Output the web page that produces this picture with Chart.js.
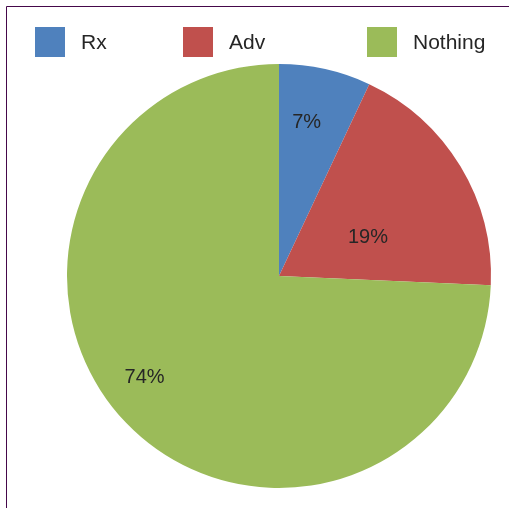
<!DOCTYPE html>
<html>
<head>
<meta charset="utf-8">
<script src="https://cdn.jsdelivr.net/npm/chart.js@4/dist/chart.umd.min.js"></script>
<style>
html,body{margin:0;padding:0;background:#fff;}
#wrap{position:relative;width:509px;height:508px;}
</style>
</head>
<body>
<div id="wrap"><canvas id="c" width="509" height="508"></canvas></div>
<script>
const categories = ["Rx", "Adv", "Nothing"];
const values = [7, 18.7, 74.3];
const colors = ["#4F81BD", "#C0504D", "#9BBB59"];
// label placement style: [fraction of radius, angle shift in degrees]
const labelPlacement = [[0.745, -2.5], [0.461, 6.6], [0.788, 7.3]];
const legendBoxX = [35, 183, 367];

const FONT = '"Liberation Sans", Arial, sans-serif';

const framePlugin = {
  id: 'frame',
  afterDraw(chart) {
    const ctx = chart.ctx;
    ctx.save();
    ctx.strokeStyle = '#45084A';
    ctx.lineWidth = 1;
    ctx.beginPath();
    ctx.moveTo(6.5, 508);
    ctx.lineTo(6.5, 6.5);
    ctx.lineTo(509, 6.5);
    ctx.stroke();

    // legend
    ctx.font = '21px ' + FONT;
    ctx.textBaseline = 'middle';
    ctx.textAlign = 'left';
    chart.data.labels.forEach((lab, i) => {
      ctx.fillStyle = chart.data.datasets[0].backgroundColor[i];
      ctx.fillRect(legendBoxX[i], 27, 30, 30);
      ctx.fillStyle = '#262626';
      ctx.fillText(lab, legendBoxX[i] + 46, 43);
    });

    // data labels
    const meta = chart.getDatasetMeta(0);
    const total = values.reduce((a, b) => a + b, 0);
    ctx.textAlign = 'center';
    ctx.font = '20px ' + FONT;
    meta.data.forEach((arc, i) => {
      const p = arc.getProps(['x', 'y', 'startAngle', 'endAngle', 'outerRadius'], true);
      const mid = (p.startAngle + p.endAngle) / 2 + labelPlacement[i][1] * Math.PI / 180;
      const r = p.outerRadius * labelPlacement[i][0];
      const x = p.x + Math.cos(mid) * r;
      const y = p.y + Math.sin(mid) * r;
      ctx.fillStyle = '#262626';
      ctx.fillText(Math.round(values[i] / total * 100) + '%', x, y + 2);
    });
    ctx.restore();
  }
};

new Chart(document.getElementById('c'), {
  type: 'pie',
  data: {
    labels: categories,
    datasets: [{
      data: values,
      backgroundColor: colors,
      borderWidth: 0
    }]
  },
  options: {
    responsive: false,
    animation: false,
    layout: { padding: { left: 67, right: 18, top: 64, bottom: 20 } },
    plugins: {
      legend: { display: false },
      tooltip: { enabled: false }
    }
  },
  plugins: [framePlugin]
});
</script>
</body>
</html>
